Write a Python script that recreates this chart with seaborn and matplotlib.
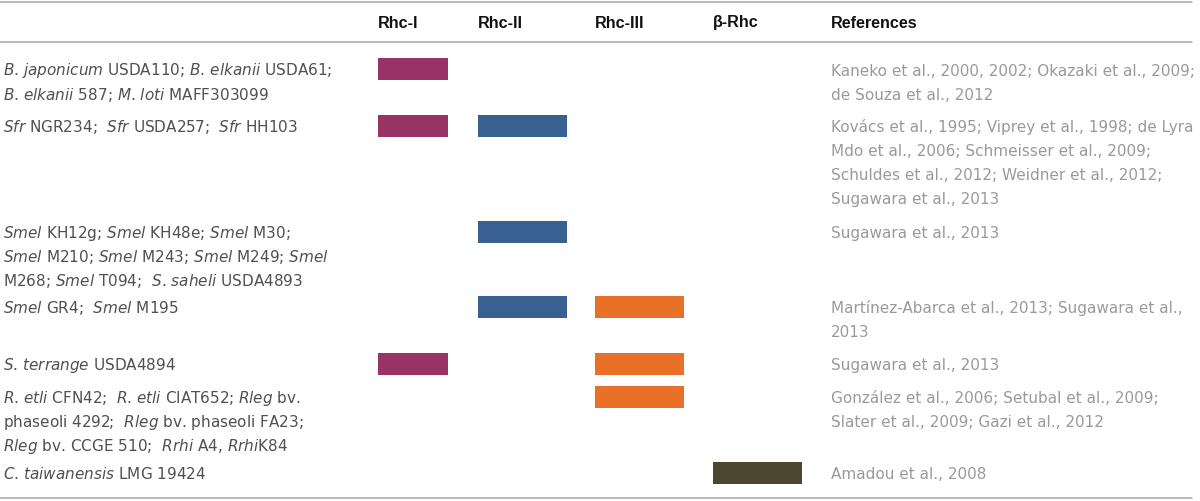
import matplotlib
matplotlib.use('Agg')
import matplotlib.pyplot as plt
import seaborn as sns

sns.set_theme(style='white')
plt.rcParams['font.family'] = ['DejaVu Sans']
plt.rcParams['mathtext.fontset'] = 'custom'
plt.rcParams['mathtext.rm'] = 'DejaVu Sans'
plt.rcParams['mathtext.it'] = 'DejaVu Sans:oblique'

# ---- table content ----
classes = ['Rhc-I', 'Rhc-II', 'Rhc-III', 'β-Rhc']

strains = [
    r'$\mathit{B}$. $\mathit{japonicum}$ USDA110; $\mathit{B}$. $\mathit{elkanii}$ USDA61;' '\n'
    r'$\mathit{B}$. $\mathit{elkanii}$ 587; $\mathit{M}$. $\mathit{loti}$ MAFF303099',
    r'$\mathit{Sfr}$ NGR234;  $\mathit{Sfr}$ USDA257;  $\mathit{Sfr}$ HH103',
    r'$\mathit{Smel}$ KH12g; $\mathit{Smel}$ KH48e; $\mathit{Smel}$ M30;' '\n'
    r'$\mathit{Smel}$ M210; $\mathit{Smel}$ M243; $\mathit{Smel}$ M249; $\mathit{Smel}$' '\n'
    r'M268; $\mathit{Smel}$ T094;  $\mathit{S}$. $\mathit{saheli}$ USDA4893',
    r'$\mathit{Smel}$ GR4;  $\mathit{Smel}$ M195',
    r'$\mathit{S}$. $\mathit{terrange}$ USDA4894',
    r'$\mathit{R}$. $\mathit{etli}$ CFN42;  $\mathit{R}$. $\mathit{etli}$ CIAT652; $\mathit{Rleg}$ bv.' '\n'
    r'phaseoli 4292;  $\mathit{Rleg}$ bv. phaseoli FA23;' '\n'
    r'$\mathit{Rleg}$ bv. CCGE 510;  $\mathit{Rrhi}$ A4, $\mathit{Rrhi}$K84',
    r'$\mathit{C}$. $\mathit{taiwanensis}$ LMG 19424',
]

rhc_i = [1, 1, 0, 0, 1, 0, 0]
rhc_ii = [0, 1, 1, 1, 0, 0, 0]
rhc_iii = [0, 0, 0, 1, 1, 1, 0]
beta_rhc = [0, 0, 0, 0, 0, 0, 1]

references = [
    'Kaneko et al., 2000, 2002; Okazaki et al., 2009;\nde Souza et al., 2012',
    'Kovács et al., 1995; Viprey et al., 1998; de Lyra\nMdo et al., 2006; Schmeisser et al., 2009;\n'
    'Schuldes et al., 2012; Weidner et al., 2012;\nSugawara et al., 2013',
    'Sugawara et al., 2013',
    'Martínez-Abarca et al., 2013; Sugawara et al.,\n2013',
    'Sugawara et al., 2013',
    'González et al., 2006; Setubal et al., 2009;\nSlater et al., 2009; Gazi et al., 2012',
    'Amadou et al., 2008',
]

# ---- layout (pixels) ----
W, H = 1200, 502
row_y = [70, 127, 233, 308, 365, 398, 474]
line_h = 24
col_x = [378, 478, 595, 713]
col_w = [70, 89, 89, 89]
bar_h = 22
ref_x = 831
colors = ['#993366', '#386192', '#E87027', '#4B462F']
presence = [rhc_i, rhc_ii, rhc_iii, beta_rhc]

fig = plt.figure(figsize=(W / 100, H / 100), dpi=100)
ax = fig.add_axes([0, 0, 1, 1])
ax.set_xlim(0, W)
ax.set_ylim(H, 0)
ax.axis('off')

rule = dict(color='#a6a6a6', lw=1.1)
ax.plot([0, 1192], [3, 3], **rule)
ax.plot([0, 1192], [43, 43], **rule)
ax.plot([0, 1192], [499, 499], **rule)

hdr = dict(family=['Liberation Sans', 'DejaVu Sans'], fontweight='bold',
           fontsize=11.6, color='#111111', va='center', ha='left')
for name, x in zip(classes, col_x):
    ax.text(x, 23, name, **hdr)
ax.text(ref_x, 23, 'References', **hdr)

for vals, x, w, c in zip(presence, col_x, col_w, colors):
    ys = [y for y, v in zip(row_y, vals) if v]
    ax.barh(ys, [w] * len(ys), left=x, height=bar_h, color=c, linewidth=0)

for y0, s, ref in zip(row_y, strains, references):
    for i, line in enumerate(s.split('\n')):
        ax.text(3, y0 + i * line_h + 5.5, line, fontsize=11,
                color='#505050', va='baseline', ha='left')
    for i, line in enumerate(ref.split('\n')):
        ax.text(ref_x, y0 + i * line_h + 5.5, line, fontsize=11,
                color='#9a9a9a', va='baseline', ha='left')

fig.savefig('out.png', dpi=100)
